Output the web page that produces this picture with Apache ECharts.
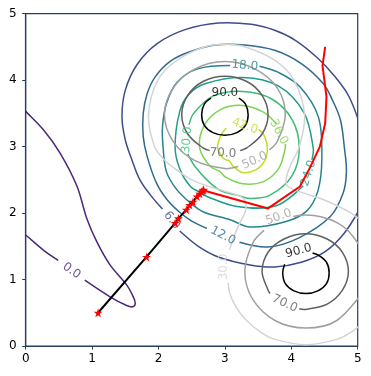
<!DOCTYPE html>
<html>
<head>
<meta charset="utf-8">
<script src="https://cdn.jsdelivr.net/npm/echarts/dist/echarts.min.js"></script>
<style>
  html, body { margin: 0; padding: 0; background: #fff; }
  #chart { width: 371px; height: 376px; }
</style>
</head>
<body>
<div id="chart"></div>
<script>
// contour lines, each one a list of segments of [x, y]
// (segments break where a contour label sits)
const v0 = [
  [[-0.05, 3.58], [0, 3.53], [0.27, 3.25], [0.52, 2.90], [0.77, 2.41], [0.92, 1.92], [1.07, 1.57], [1.27, 1.22],
   [1.52, 0.92], [1.62, 0.74], [1.65, 0.64], [1.61, 0.59], [1.52, 0.61], [1.27, 0.74], [0.89, 0.99]],
  [[0.49, 1.29], [0.27, 1.44], [0, 1.67], [-0.05, 1.70]]
];
const v6 = [
  [[5.05, 3.28], [4.87, 3.75], [4.66, 4.05], [4.40, 4.33], [4.06, 4.60], [3.75, 4.75], [3.40, 4.84], [2.90, 4.86],
   [2.40, 4.76], [1.98, 4.55], [1.68, 4.24], [1.50, 3.85], [1.45, 3.45], [1.50, 3.10], [1.60, 2.80], [1.72, 2.50],
   [1.88, 2.27], [2.06, 2.06]],
  [[2.32, 1.73], [2.60, 1.50], [2.90, 1.34], [3.38, 1.22], [3.75, 1.19], [4.15, 1.26], [4.51, 1.42], [4.80, 1.70], [5.05, 2.10]]
];
const v12 = [
  [[3.22, 1.56], [3.65, 1.49], [4.10, 1.62], [4.58, 1.94], [4.78, 2.30], [4.83, 2.62], [4.80, 2.98], [4.74, 3.40],
   [4.62, 3.70], [4.48, 3.95], [4.15, 4.25], [3.75, 4.45], [3.30, 4.53], [2.85, 4.53], [2.45, 4.42], [2.17, 4.28],
   [1.95, 4.05], [1.83, 3.80], [1.77, 3.50], [1.77, 3.15], [1.83, 2.85], [1.97, 2.45], [2.13, 2.20], [2.31, 2.02],
   [2.50, 1.88], [2.73, 1.77]]
];
const v18 = [
  [[3.08, 4.22], [2.59, 4.17], [2.28, 3.97], [2.12, 3.65], [2.06, 3.30], [2.07, 2.98], [2.12, 2.62], [2.27, 2.36],
   [2.46, 2.17], [2.67, 2.02], [3.08, 1.90], [3.38, 1.79], [3.91, 1.87], [4.23, 2.03], [4.40, 2.33], [4.46, 2.83],
   [4.41, 3.44], [4.13, 3.90], [3.80, 4.12], [3.52, 4.21]]
];
const v24 = [
  [[4.31, 2.80], [4.33, 2.98], [4.19, 3.51], [3.81, 3.91], [3.27, 4.04], [2.71, 3.95], [2.46, 3.79], [2.32, 3.53],
   [2.25, 2.98], [2.33, 2.64], [2.48, 2.40], [2.61, 2.32], [2.73, 2.25], [3.18, 2.10], [3.77, 2.11], [4.18, 2.41]]
];
const v30 = [
  [[2.44, 2.89], [2.55, 2.70], [2.76, 2.47], [2.95, 2.33], [3.18, 2.27], [3.38, 2.22], [3.68, 2.27], [4.01, 2.56],
   [4.12, 2.98], [4.01, 3.41], [3.70, 3.72], [3.27, 3.83], [2.82, 3.76], [2.53, 3.50], [2.46, 3.33]]
];
const v36 = [
  [[3.78, 3.34], [3.58, 3.52], [3.27, 3.62], [2.94, 3.56], [2.69, 3.32], [2.62, 2.98], [2.78, 2.70], [2.92, 2.63],
   [3.01, 2.54], [3.27, 2.44], [3.57, 2.47], [3.81, 2.67], [3.91, 2.98], [3.91, 3.04]]
];
const v42 = [
  [[3.51, 3.26], [3.59, 3.17], [3.64, 2.98], [3.60, 2.79], [3.46, 2.65], [3.27, 2.61], [3.12, 2.71], [3.07, 2.78],
   [2.98, 2.82], [2.89, 2.98], [2.94, 3.17], [3.02, 3.28]]
];

const g30 = [
  [[5.10, 1.84], [4.90, 2.00], [4.49, 2.20], [4.19, 2.30], [3.95, 2.40], [3.92, 2.50], [3.98, 2.70], [4.12, 3.00],
   [4.20, 3.48], [4.04, 4.00], [3.75, 4.30], [3.31, 4.50], [3.00, 4.54], [2.69, 4.50], [2.28, 4.30], [1.99, 4.00],
   [1.85, 3.48], [1.94, 3.00], [2.09, 2.80], [2.34, 2.60], [2.50, 2.50], [2.76, 2.40], [2.93, 2.35], [3.10, 2.30],
   [3.23, 2.25], [3.30, 2.20], [3.32, 2.10], [3.30, 2.00], [3.20, 1.80], [3.12, 1.60], [3.07, 1.45]],
  [[3.05, 0.95], [3.07, 0.80], [3.16, 0.60], [3.31, 0.40], [3.55, 0.20], [3.75, 0.10], [4.22, 0.02], [4.69, 0.10],
   [4.89, 0.20], [5.10, 0.37]]
];
const g50 = [
  [[3.67, 2.95], [3.79, 3.08], [3.91, 3.48], [3.79, 3.88], [3.45, 4.17], [3.00, 4.28], [2.55, 4.17], [2.22, 3.88],
   [2.09, 3.48], [2.22, 3.08], [2.55, 2.79], [3.00, 2.67], [3.20, 2.70]],
  [[5.09, 1.41], [4.87, 1.72], [4.68, 1.86], [4.46, 1.94], [4.22, 1.97], [4.03, 1.95]],
  [[3.59, 1.74], [3.42, 1.55], [3.30, 1.12], [3.42, 0.70], [3.76, 0.38], [4.22, 0.27], [4.68, 0.38], [5.09, 0.83]]
];
const g70 = [
  [[3.23, 2.94], [3.33, 2.98], [3.56, 3.19], [3.65, 3.48], [3.56, 3.77], [3.33, 3.98], [3.00, 4.06], [2.67, 3.98],
   [2.44, 3.77], [2.35, 3.48], [2.44, 3.19], [2.67, 2.98], [2.77, 2.94]],
  [[4.12, 0.56], [4.21, 0.55], [4.54, 0.63], [4.77, 0.84], [4.86, 1.12], [4.77, 1.41], [4.54, 1.61], [4.21, 1.69],
   [3.89, 1.61], [3.65, 1.41], [3.56, 1.12], [3.65, 0.84], [3.68, 0.79]]
];
const g90 = [
  [[3.21, 3.73], [3.31, 3.64], [3.35, 3.48], [3.31, 3.32], [3.18, 3.21], [3.00, 3.17], [2.82, 3.21], [2.69, 3.32],
   [2.65, 3.48], [2.69, 3.64], [2.79, 3.73]],
  [[4.32, 1.40], [4.40, 1.37], [4.53, 1.26], [4.57, 1.10], [4.53, 0.94], [4.40, 0.83], [4.22, 0.79], [4.04, 0.83],
   [3.91, 0.94], [3.87, 1.10], [3.90, 1.23]]
];

// contour labels: [level, x, y]
const vLabels = [[0, 0.69, 1.13], [6, 2.20, 1.89], [12, 2.97, 1.66], [18, 3.30, 4.22], [24, 4.26, 2.60],
                 [30, 2.43, 3.10], [36, 3.81, 3.22], [42, 3.30, 3.31]];
const gLabels = [[90, 3.00, 3.81], [70, 2.97, 2.90], [50, 3.45, 2.79], [90, 4.11, 1.43], [70, 3.90, 0.64],
                 [50, 3.81, 1.94], [30, 2.99, 1.19]];

// the two paths
const pathStars = [[1.09, 0.50], [1.82, 1.34], [2.25, 1.85], [2.30, 1.92], [2.42, 2.05], [2.47, 2.12], [2.52, 2.17],
                   [2.58, 2.25], [2.62, 2.29], [2.65, 2.32], [2.67, 2.34], [2.68, 2.35]];
const pathRed = [[4.51, 4.50], [4.47, 4.22], [4.53, 3.75], [4.51, 3.35], [4.43, 3.00], [4.28, 2.68], [4.13, 2.40],
                 [3.65, 2.07], [2.68, 2.34]];

const ticks = [0, 1, 2, 3, 4, 5];

// styles
const vColors = { 0: '#482878', 6: '#3e4c8a', 12: '#306a8e', 18: '#26828e', 24: '#1f9e89', 30: '#3bbb75', 36: '#7fd34e', 42: '#c0df25' };
const gColors = { 30: '#d4d4d4', 50: '#a0a0a0', 70: '#606060', 90: '#000000' };
const vRot = [-35, -52, -28, -5, 72, 85, -62, -20];
const gRot = [0, -3, 25, 15, -25, 20, 90];
const spine = '#263f5a';
const font = 'DejaVu Sans';
const star = 'path://M0,-10 L2.23,-3.07 L9.51,-3.09 L3.61,1.17 L5.88,8.09 L0,3.8 L-5.88,8.09 L-3.61,1.17 L-9.51,-3.09 L-2.23,-3.07 Z';

const series = [];
// each contour segment is drawn as a smoothed polyline through its read-off points
function addContour(segs, color) {
  series.push({
    type: 'custom', silent: true, clip: true, z: 2,
    data: segs.map(function (s) { return s[0]; }),
    renderItem: function (params, api) {
      const pts = segs[params.dataIndex].map(function (p) { return api.coord(p); });
      return {
        type: 'polyline',
        shape: { points: pts, smooth: 0.35 },
        style: { stroke: color, lineWidth: 1.5, fill: null }
      };
    }
  });
}
[[v0, 0], [v6, 6], [v12, 12], [v18, 18], [v24, 24], [v30, 30], [v36, 36], [v42, 42]].forEach(function (c) {
  addContour(c[0], vColors[c[1]]);
});
[[g30, 30], [g50, 50], [g70, 70], [g90, 90]].forEach(function (c) {
  addContour(c[0], gColors[c[1]]);
});

function labelSeries(list, colors, rots) {
  return {
    type: 'scatter', symbolSize: 0, silent: true, z: 3,
    data: list.map(function (l, i) {
      return {
        value: [l[1], l[2]], name: l[0].toFixed(1),
        label: { show: true, position: 'inside', formatter: '{b}', color: colors[l[0]], rotate: rots[i],
                 fontSize: 12, fontFamily: font }
      };
    })
  };
}
series.push(labelSeries(vLabels, vColors, vRot));
series.push(labelSeries(gLabels, gColors, gRot));

series.push({
  type: 'line', data: pathRed, symbol: 'none', lineStyle: { color: '#ff0000', width: 2 }, z: 4, silent: true
});
series.push({
  type: 'line', data: pathStars, symbol: star, symbolSize: 9, showSymbol: true,
  itemStyle: { color: '#ff0000' }, lineStyle: { color: '#000000', width: 2 }, z: 5, silent: true
});

const axisCommon = {
  type: 'value', min: 0, max: 5, interval: 1,
  axisLine: { show: true, onZero: false, lineStyle: { color: spine, width: 1.2 } },
  axisTick: { show: true, inside: false, length: 3.5, lineStyle: { color: spine, width: 1 } },
  splitLine: { show: false },
  axisLabel: { color: '#000', fontSize: 12, fontFamily: font, formatter: function (v) { return ticks.indexOf(v) >= 0 ? String(v) : ''; } }
};

const chart = echarts.init(document.getElementById('chart'), null, { renderer: 'canvas' });
chart.setOption({
  animation: false,
  backgroundColor: '#fff',
  grid: { left: 25.7, top: 13.7, width: 332, height: 332.3, show: true, borderColor: spine, borderWidth: 1.2, backgroundColor: 'transparent' },
  xAxis: Object.assign({}, axisCommon, { axisLabel: Object.assign({}, axisCommon.axisLabel, { margin: 7 }) }),
  yAxis: Object.assign({}, axisCommon, { axisLabel: Object.assign({}, axisCommon.axisLabel, { margin: 9 }) }),
  series: series
});
</script>
</body>
</html>
